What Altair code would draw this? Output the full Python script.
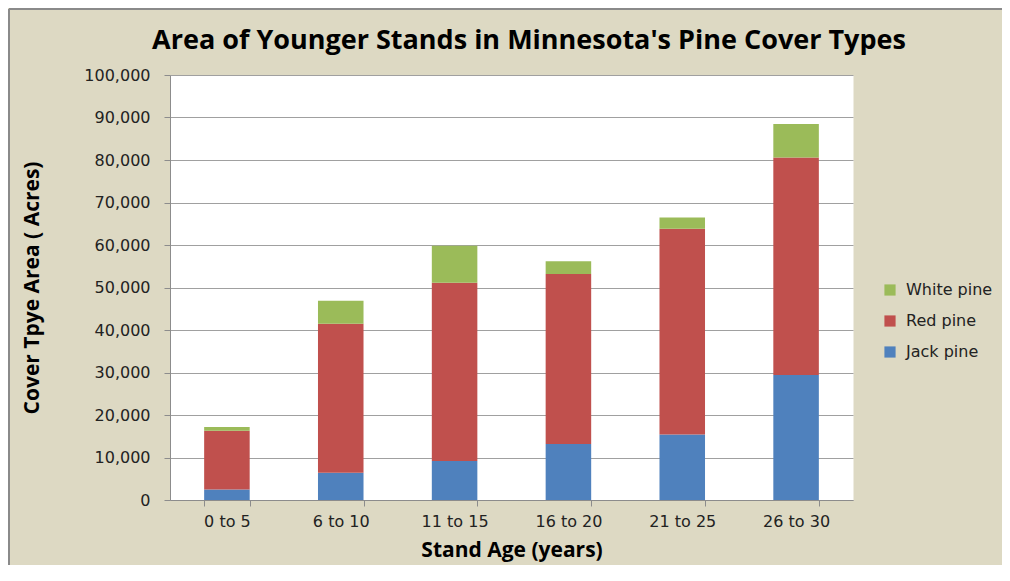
import altair as alt
import pandas as pd

ages = ["0 to 5", "6 to 10", "11 to 15", "16 to 20", "21 to 25", "26 to 30"]
series = ["Jack pine", "Red pine", "White pine"]
jack = [2500, 6400, 9200, 13200, 15400, 29400]
red = [13800, 35100, 41900, 40000, 48400, 51200]
white = [900, 5400, 8700, 3000, 2700, 7900]

legend_order = ["White pine", "Red pine", "Jack pine"]
colors = ["#9BBB59", "#C0504D", "#4F81BD"]
y_ticks = list(range(0, 100001, 10000))
title_text = "Area of Younger Stands in Minnesota's Pine Cover Types"

rows = []
for i, a in enumerate(ages):
    for k, (s, vals) in enumerate(zip(series, [jack, red, white])):
        rows.append({"age": a, "type": s, "acres": vals[i], "ord": k})
df = pd.DataFrame(rows)

TFONT = "Open Sans"
LFONT = "DejaVu Sans"
W, H = 683, 425

bars = alt.Chart(df).mark_bar().encode(
    x=alt.X("age:N", sort=ages,
            scale=alt.Scale(paddingInner=0.6, paddingOuter=0.3),
            axis=alt.Axis(title="Stand Age (years)", labelAngle=0, tickBand="extent",
                          tickSize=6, labelPadding=7, labelFontSize=16,
                          titleFontSize=21, titleFontWeight="bold",
                          titleY=50, titleBaseline="middle", grid=False)),
    y=alt.Y("acres:Q", stack="zero",
            scale=alt.Scale(domain=[0, 100000], nice=False),
            axis=alt.Axis(title="Cover Tpye Area ( Acres)", values=y_ticks, format=",d",
                          tickSize=6, labelPadding=14, labelFontSize=16,
                          titleFontSize=21, titleFontWeight="bold",
                          titleX=-138, titleY=H / 2, titleBaseline="middle", titleAngle=270,
                          grid=True)),
    color=alt.Color("type:N", scale=alt.Scale(domain=legend_order, range=colors),
                    legend=alt.Legend(title=None, orient="none", legendX=712, legendY=207,
                                      symbolType="square", symbolSize=125, symbolStrokeWidth=0,
                                      labelFontSize=16, rowPadding=15, labelOffset=8)),
    order=alt.Order("ord:Q", sort="ascending"),
)

one = pd.DataFrame({"t": [title_text]})
title_mark = alt.Chart(one).mark_text(
    font=TFONT, fontSize=27, fontWeight="bold", color="#000000",
    align="center", baseline="alphabetic"
).encode(text="t:N", x=alt.value(359), y=alt.value(-26))

left_border = alt.Chart(one).mark_rule(color="#8a8a8a", strokeWidth=2).encode(
    x=alt.value(-161), y=alt.value(-66), y2=alt.value(H + 80)
)
top_border = alt.Chart(one).mark_rule(color="#8a8a8a", strokeWidth=2).encode(
    x=alt.value(-161), x2=alt.value(W + 160), y=alt.value(-66)
)

chart = alt.layer(bars, title_mark, left_border, top_border).properties(
    width=W, height=H,
    background="#DDD9C3",
    padding={"left": 162, "top": 67, "right": 149, "bottom": 65},
    autosize=alt.AutoSizeParams(type="none"),
).configure_view(fill="white", stroke="transparent").configure_axis(
    labelFont=LFONT, titleFont=TFONT, labelColor="#222222", titleColor="#000000",
    domainColor="#8c8c8c", tickColor="#8c8c8c", gridColor="#a0a0a0", gridWidth=1,
).configure_legend(labelFont=LFONT, labelColor="#222222")

chart.save("out.html", embed_options={"renderer": "svg", "actions": False})
